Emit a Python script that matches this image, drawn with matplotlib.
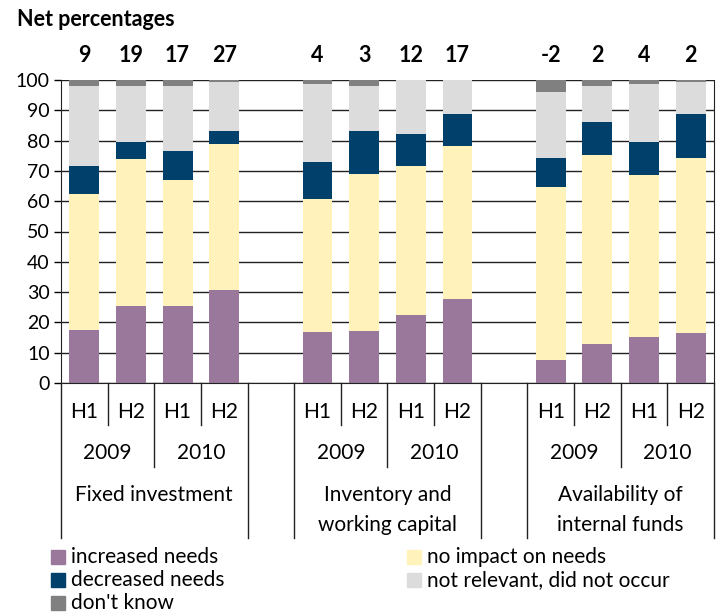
import matplotlib
matplotlib.use("Agg")
import matplotlib.pyplot as plt
from matplotlib.transforms import blended_transform_factory
from matplotlib.patches import Rectangle

# ----------------------------
# Data (percentages)
# ----------------------------
groups = ["Fixed investment", "Inventory and\nworking capital", "Availability of\ninternal funds"]
years = ["2009", "2010"]
halves = ["H1", "H2"]

increased = [17.5, 25.4, 25.4, 30.7, 16.8, 17.1, 22.4, 27.7, 7.6, 12.9, 15.2, 16.5]
no_impact = [44.8, 48.4, 41.5, 48.1, 43.9, 51.9, 49.1, 50.4, 57.0, 62.3, 53.4, 57.7]
decreased = [9.2, 5.7, 9.6, 4.3, 12.2, 14.1, 10.6, 10.6, 9.6, 10.8, 10.9, 14.5]
not_relevant = [26.5, 18.5, 21.5, 16.2, 25.8, 14.9, 17.9, 11.3, 21.8, 12.0, 19.2, 10.6]
dont_know = [2.0, 2.0, 2.0, 0.7, 1.3, 2.0, 0.0, 0.0, 4.0, 2.0, 1.3, 0.7]
net = ["9", "19", "17", "27", "4", "3", "12", "17", "-2", "2", "4", "2"]

series = [
    ("increased needs", increased, "#9a789c"),
    ("no impact on needs", no_impact, "#fff2bb"),
    ("decreased needs", decreased, "#00406a"),
    ("not relevant, did not occur", not_relevant, "#dcdcdc"),
    ("don't know", dont_know, "#808080"),
]

# ----------------------------
# Layout
# ----------------------------
W, H = 721, 613
plt.rcParams['font.family'] = ['Lato', 'DejaVu Sans']
TXT = 15

def fy(py):
    # pixel row from top -> figure fraction
    return 1 - py / H

fig = plt.figure(figsize=(W / 100, H / 100), dpi=100)
ax = fig.add_axes([61 / W, fy(383), (714 - 61) / W, (383 - 80) / H])

# 4 bars, gap, 4 bars, gap, 4 bars
pos = [0, 1, 2, 3, 5, 6, 7, 8, 10, 11, 12, 13]

bottom = [0] * len(pos)
for name, vals, col in series:
    ax.bar(pos, vals, width=0.64, bottom=bottom, color=col, zorder=3)
    bottom = [b + v for b, v in zip(bottom, vals)]

ax.set_xlim(-0.5, 13.5)
ax.set_ylim(0, 100)
ax.set_yticks(range(0, 101, 10))
ax.tick_params(axis='y', direction='out', length=5, width=1, labelsize=14, pad=3)
ax.set_xticks([])
ax.grid(axis='y', color='#222222', linewidth=1, zorder=1)
for s in ['left', 'right', 'bottom']:
    ax.spines[s].set_color('#222222')
    ax.spines[s].set_zorder(4)
ax.spines['top'].set_visible(False)

# net percentages above the bars
tr = blended_transform_factory(ax.transData, fig.transFigure)
for p, n in zip(pos, net):
    ax.text(p, fy(55), n, transform=tr, ha='center', va='center',
            fontsize=15.5, fontweight='bold')

fig.text(17 / W, fy(19), "Net percentages", ha='left', va='center',
         fontsize=15.5, fontweight='bold')

# ----------------------------
# Multi-level category axis
# ----------------------------
line_kw = dict(transform=tr, color='#222222', linewidth=1, clip_on=False)
for k in range(15):
    b = k - 0.5
    if k % 5 in (0, 4) or k in (5, 10, 14):
        end = 538
    elif k % 5 == 2:
        end = 467
    else:
        end = 425
    ax.plot([b, b], [fy(383), fy(end)], **line_kw)

for g, name in enumerate(groups):
    start = g * 5
    for y_i, yr in enumerate(years):
        for h_i, hl in enumerate(halves):
            ax.text(start + y_i * 2 + h_i, fy(412), hl, transform=tr,
                    ha='center', va='center', fontsize=TXT)
        ax.text(start + y_i * 2 + 0.5, fy(453), yr, transform=tr,
                ha='center', va='center', fontsize=TXT)
    ax.text(start + 1.5, fy(495) if '\n' not in name else fy(510), name,
            transform=tr, ha='center', va='center', fontsize=TXT,
            linespacing=1.6)

# ----------------------------
# Legend (manual, two columns)
# ----------------------------
legend_pos = [(51, 557), (407, 557), (51, 580), (407, 580), (51, 603)]
for (name, vals, col), (lx, ly) in zip(series, legend_pos):
    fig.patches.append(Rectangle((lx / W, fy(ly + 7)), 14 / W, 14 / H,
                                 transform=fig.transFigure, color=col))
    fig.text((lx + 20) / W, fy(ly), name, ha='left', va='center', fontsize=TXT)

fig.savefig("out.png", dpi=100)
